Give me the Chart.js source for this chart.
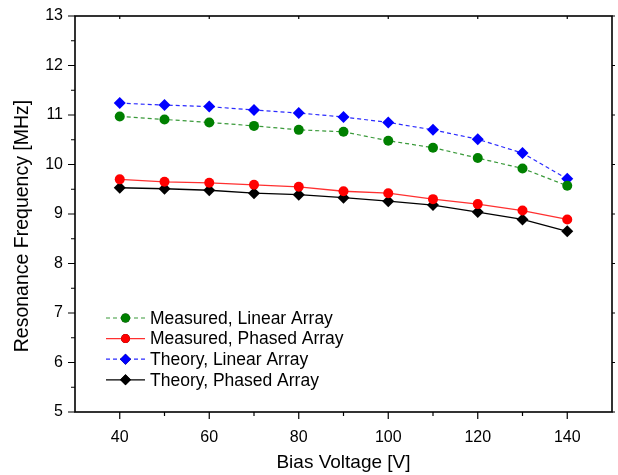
<!DOCTYPE html>
<html>
<head>
<meta charset="utf-8">
<script src="https://cdn.jsdelivr.net/npm/chart.js@4.4.0/dist/chart.umd.min.js"></script>
<style>
  html, body { margin: 0; padding: 0; background: #fff; }
  #wrap { width: 618px; height: 475px; position: relative; }
</style>
</head>
<body>
<div id="wrap"><canvas id="chart"></canvas></div>
<script>
// Data
const voltages = [40, 50, 60, 70, 80, 90, 100, 110, 120, 130, 140];
const measuredLinear = [10.97, 10.91, 10.85, 10.78, 10.70, 10.66, 10.48, 10.34, 10.13, 9.92, 9.57];
const measuredPhased = [9.70, 9.65, 9.63, 9.59, 9.55, 9.46, 9.42, 9.30, 9.20, 9.07, 8.89];
const theoryLinear   = [11.24, 11.20, 11.17, 11.10, 11.04, 10.96, 10.85, 10.70, 10.51, 10.23, 9.71];
const theoryPhased   = [9.53, 9.51, 9.48, 9.42, 9.39, 9.33, 9.26, 9.18, 9.04, 8.89, 8.65];

const xTicks = [40, 60, 80, 100, 120, 140];
const xMinorTicks = [50, 70, 90, 110, 130];
const yTicks = [5, 6, 7, 8, 9, 10, 11, 12, 13];
const yMinorTicks = [5.5, 6.5, 7.5, 8.5, 9.5, 10.5, 11.5, 12.5];
const yTitle = 'Resonance Frequency [MHz]';

const FONT = 'Liberation Sans, Arial, sans-serif';

function toPoints(values) {
    return voltages.map(function(v, i) { return { x: v, y: values[i] }; });
}

// Frame, tick marks, y title and the legend inside the plot
const framePlugin = {
    id: 'frame',
    afterDraw: function(chart) {
        const ctx = chart.ctx;
        const a = chart.chartArea;
        const x = chart.scales.x;
        const y = chart.scales.y;
        ctx.save();
        ctx.strokeStyle = '#000';
        ctx.lineWidth = 1.6;
        ctx.strokeRect(a.left, a.top, a.right - a.left, a.bottom - a.top);

        ctx.lineWidth = 1.2;
        ctx.beginPath();
        xTicks.forEach(function(t) {
            const px = x.getPixelForValue(t);
            ctx.moveTo(px, a.bottom); ctx.lineTo(px, a.bottom + 7);
            ctx.moveTo(px, a.top); ctx.lineTo(px, a.top + 3);
        });
        xMinorTicks.forEach(function(t) {
            const px = x.getPixelForValue(t);
            ctx.moveTo(px, a.bottom); ctx.lineTo(px, a.bottom + 4);
        });
        yTicks.forEach(function(t) {
            const py = y.getPixelForValue(t);
            ctx.moveTo(a.left - 7, py); ctx.lineTo(a.left, py);
            ctx.moveTo(a.right, py); ctx.lineTo(a.right + 3, py);
        });
        yMinorTicks.forEach(function(t) {
            const py = y.getPixelForValue(t);
            ctx.moveTo(a.left - 4, py); ctx.lineTo(a.left, py);
        });
        ctx.stroke();

        // y axis title
        ctx.save();
        ctx.translate(23, 226);
        ctx.rotate(-Math.PI / 2);
        ctx.font = '19.5px ' + FONT;
        ctx.textAlign = 'center';
        ctx.textBaseline = 'middle';
        ctx.fillStyle = '#000';
        ctx.fillText(yTitle, 0, 0);
        ctx.restore();

        // legend
        const lx = 106, lw = 39;
        let ly = 318;
        ctx.font = '17.5px ' + FONT;
        ctx.textBaseline = 'middle';
        ctx.textAlign = 'left';
        chart.data.datasets.forEach(function(ds) {
            ctx.strokeStyle = ds.borderColor;
            ctx.lineWidth = ds.borderWidth;
            ctx.setLineDash(ds.borderDash || []);
            ctx.beginPath();
            ctx.moveTo(lx, ly); ctx.lineTo(lx + lw, ly);
            ctx.stroke();
            ctx.setLineDash([]);
            Chart.helpers.drawPoint(ctx, {
                pointStyle: ds.pointStyle,
                radius: ds.pointRadius - 0.5,
                rotation: 0,
                borderWidth: 0
            }, lx + lw / 2, ly);
            ctx.fillStyle = ds.pointBackgroundColor;
            ctx.fill();
            ctx.fillStyle = '#000';
            ctx.fillText(ds.label, 150, ly + 1);
            ly += 20.6;
        });
        ctx.restore();
    }
};

new Chart(document.getElementById('chart'), {
    type: 'line',
    data: {
        datasets: [{
            label: 'Measured, Linear Array',
            data: toPoints(measuredLinear),
            borderColor: '#3a9a3a',
            borderWidth: 1.2,
            borderDash: [4, 3],
            pointStyle: 'circle',
            pointRadius: 5,
            pointBackgroundColor: '#008000',
            pointBorderColor: '#008000',
            pointBorderWidth: 0
        }, {
            label: 'Measured, Phased Array',
            data: toPoints(measuredPhased),
            borderColor: '#ff3030',
            borderWidth: 1.3,
            pointStyle: 'circle',
            pointRadius: 5,
            pointBackgroundColor: '#ff0000',
            pointBorderColor: '#ff0000',
            pointBorderWidth: 0
        }, {
            label: 'Theory, Linear Array',
            data: toPoints(theoryLinear),
            borderColor: '#2a2aff',
            borderWidth: 1.2,
            borderDash: [4, 3],
            pointStyle: 'rectRot',
            pointRadius: 6,
            pointBackgroundColor: '#0000ff',
            pointBorderColor: '#0000ff',
            pointBorderWidth: 0
        }, {
            label: 'Theory, Phased Array',
            data: toPoints(theoryPhased),
            borderColor: '#000000',
            borderWidth: 1.3,
            pointStyle: 'rectRot',
            pointRadius: 6,
            pointBackgroundColor: '#000000',
            pointBorderColor: '#000000',
            pointBorderWidth: 0
        }]
    },
    options: {
        responsive: true,
        maintainAspectRatio: false,
        animation: false,
        layout: { padding: { top: 16, right: 5, left: 0, bottom: 0 } },
        plugins: {
            legend: { display: false },
            tooltip: { enabled: false }
        },
        scales: {
            x: {
                type: 'linear',
                min: 30,
                max: 150,
                afterBuildTicks: function(scale) {
                    scale.ticks = xTicks.map(function(v) { return { value: v }; });
                },
                afterFit: function(scale) {
                    scale.height = 63;
                    scale.paddingLeft = 0;
                    scale.paddingRight = 0;
                },
                grid: { display: false, drawTicks: false },
                border: { display: false },
                ticks: {
                    color: '#000',
                    padding: 16,
                    maxRotation: 0,
                    font: { family: FONT, size: 16 }
                },
                title: {
                    display: true,
                    text: 'Bias Voltage [V]',
                    color: '#000',
                    font: { family: FONT, size: 19 },
                    padding: { top: 0, bottom: 1 }
                }
            },
            y: {
                type: 'linear',
                min: 5,
                max: 13,
                afterBuildTicks: function(scale) {
                    scale.ticks = yTicks.map(function(v) { return { value: v }; });
                },
                afterFit: function(scale) {
                    scale.width = 75;
                    scale.paddingTop = 0;
                    scale.paddingBottom = 0;
                },
                grid: { display: false, drawTicks: false },
                border: { display: false },
                ticks: {
                    color: '#000',
                    padding: 12,
                    font: { family: FONT, size: 16 }
                },
                title: { display: false }
            }
        }
    },
    plugins: [framePlugin]
});
</script>
</body>
</html>
